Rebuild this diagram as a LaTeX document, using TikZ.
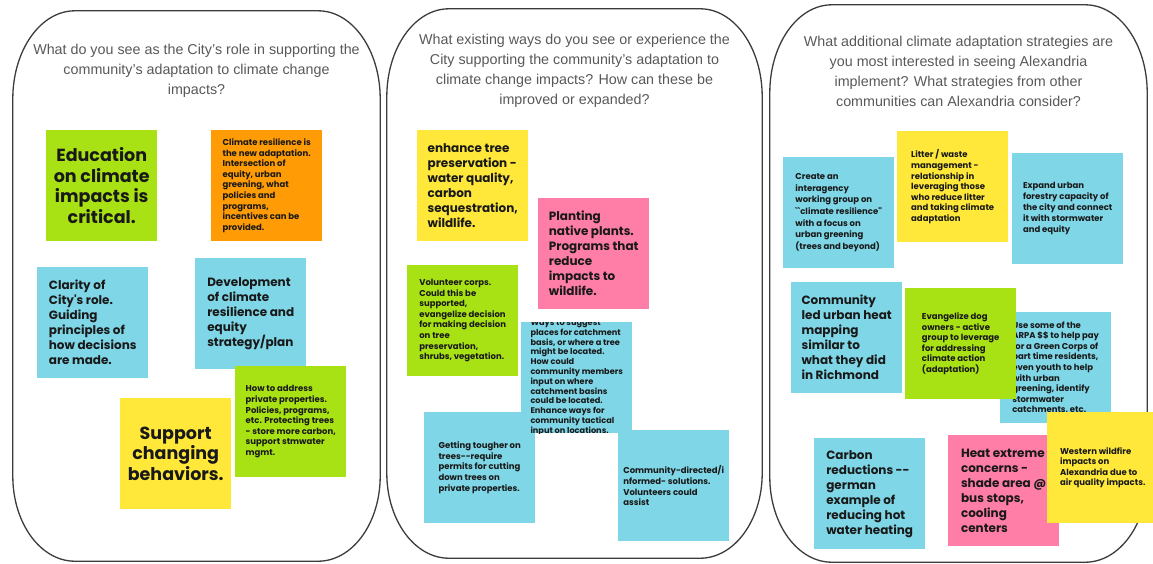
\documentclass[tikz,border=0pt]{standalone}
\usepackage{fontspec}
\setmainfont{Liberation Sans}
\newfontfamily\notefont{Poppins}
\usetikzlibrary{positioning}
\definecolor{frame}{RGB}{60, 60, 60}
\definecolor{asking}{RGB}{88, 88, 88}
\definecolor{ink}{RGB}{25, 25, 25}
\definecolor{lima}{RGB}{168, 226, 20}
\definecolor{naranja}{RGB}{255, 155, 5}
\definecolor{celeste}{RGB}{126, 214, 230}
\definecolor{amarillo}{RGB}{255, 232, 58}
\definecolor{rosa}{RGB}{255, 126, 168}
\tikzset{
    panel/.style={inner sep=0pt},
    panelLine/.style={draw=frame, line width=1.3pt},
    question/.style={text=asking, align=center, inner sep=0pt, font=\fontsize{14.3}{20}\selectfont},
    note/.style={anchor=north west, minimum width=111pt, minimum height=111pt, inner sep=0pt, align=left, text=ink},
    bigNote/.style={note, align=center, font=\notefont\bfseries\fontsize{17.5}{20.5}\selectfont},
    midNote/.style={note, font=\notefont\bfseries\fontsize{12}{15}\selectfont},
    lowNote/.style={note, font=\notefont\bfseries\fontsize{8.5}{10.6}\selectfont},
}
% outline of a board, corners wider than tall
\newcommand{\boardline}[1]{%
    \draw[panelLine] ([xshift=62pt]#1.north west) -- ([xshift=-62pt]#1.north east)
        arc[start angle=90, end angle=0, x radius=62pt, y radius=88pt]
        -- ([yshift=85pt]#1.south east)
        arc[start angle=0, end angle=-90, x radius=62pt, y radius=85pt]
        -- ([xshift=62pt]#1.south west)
        arc[start angle=270, end angle=180, x radius=62pt, y radius=85pt]
        -- ([yshift=-88pt]#1.north west)
        arc[start angle=180, end angle=90, x radius=62pt, y radius=88pt] -- cycle;}
\begin{document}
\begin{tikzpicture}[x=1pt, y=-1pt]
    \useasboundingbox (0,0) rectangle (1153,563);
    \coordinate (qrow) at (0,71);

    % the three boards
    \node [panel, minimum width=367, minimum height=550] (roleP) at (196.5,286) {};
    \node [panel, minimum width=375, minimum height=549] (waysP) at (574.5,283.5) {};
    \node [panel, minimum width=377, minimum height=557] (moreP) at (958.5,283.5) {};
    \boardline{roleP}
    \boardline{waysP}
    \boardline{moreP}

    \node [question] (roleQ) at (roleP.north |- qrow) {What do you see as the City's role in supporting the\\community's adaptation to climate change\\impacts?};
    \node [question] (waysQ) at (waysP.north |- qrow) {What existing ways do you see or experience the\\City supporting the community's adaptation to\\climate change impacts? How can these be\\improved or expanded?};
    \node [question] (moreQ) at (moreP.north |- qrow) {What additional climate adaptation strategies are\\you most interested in seeing Alexandria\\implement? What strategies from other\\communities can Alexandria consider?};

    % board 1
    \node [bigNote, fill=lima] (edu) at (46,130) {Education\\on climate\\impacts is\\critical.};
    \node [lowNote, fill=naranja] (resil) at (211,130) {Climate resilience is\\the new adaptation.\\Intersection of\\equity, urban\\greening, what\\policies and\\programs,\\incentives can be\\provided.};
    \node [midNote, fill=celeste] (clarity) at (37,267) {Clarity of\\City's role.\\Guiding\\principles of\\how decisions\\are made.};
    \node [midNote, fill=celeste] (devel) at (195,258) {Development\\of climate\\resilience and\\equity\\strategy/plan};
    \node [lowNote, fill=lima] (private) at (235,366) {How to address\\private properties.\\Policies, programs,\\etc. Protecting trees\\- store more carbon,\\support stmwater\\mgmt.};
    \node [bigNote, fill=amarillo] (support) at (120,398) {Support\\changing\\behaviors.};

    % board 2
    \node [midNote, fill=amarillo] (enhance) at (417,130) {enhance tree\\preservation -\\water quality,\\carbon\\sequestration,\\wildlife.};
    \node [midNote, fill=rosa] (planting) at (538,198) {Planting\\native plants.\\Programs that\\reduce\\impacts to\\wildlife.};
    \node [lowNote, fill=lima] (volunteer) at (407,265) {Volunteer corps.\\Could this be\\supported,\\evangelize decision\\for making decision\\on tree\\preservation,\\shrubs, vegetation.};
    \node [lowNote, fill=celeste] (tougher) at (424,412) {Getting tougher on\\trees-{}-require\\permits for cutting\\down trees on\\private properties.};
    \node [note, fill=celeste] (suggest) at (521,322) {};
    \begin{scope}
        \clip (suggest.north west) rectangle (suggest.south east);
        \node [lowNote, anchor=center, minimum height=0pt, font=\notefont\bfseries\fontsize{8.2}{9.8}\selectfont] (suggestT) at (suggest.center) {Ways to suggest\\places for catchment\\basis, or where a tree\\might be located.\\How could\\community members\\input on where\\catchment basins\\could be located.\\Enhance ways for\\community tactical\\input on locations.};
    \end{scope}
    \node [lowNote, fill=celeste] (directed) at (618,430) {Community-directed/i\\nformed- solutions.\\Volunteers could\\assist};

    % board 3
    \node [lowNote, fill=celeste, font=\notefont\bfseries\fontsize{8.5}{11.6}\selectfont] (agency) at (783,157) {Create an\\interagency\\working group on\\``climate resilience''\\with a focus on\\urban greening\\(trees and beyond)};
    \node [lowNote, fill=amarillo] (litter) at (897,131) {Litter / waste\\management -\\relationship in\\leveraging those\\who reduce litter\\and taking climate\\adaptation};
    \node [lowNote, fill=celeste, font=\notefont\bfseries\fontsize{8.5}{11}\selectfont] (forestry) at (1012,153) {Expand urban\\forestry capacity of\\the city and connect\\it with stormwater\\and equity};
    \node [midNote, fill=celeste] (heatmap) at (791,282) {Community\\led urban heat\\mapping\\similar to\\what they did\\in Richmond};
    \node [lowNote, fill=celeste] (arpa) at (1000,312) {Use some of the\\ARPA \$\$ to help pay\\for a Green Corps of\\part time residents,\\even youth to help\\with urban\\greening, identify\\stormwater\\catchments, etc.};
    \node [lowNote, fill=lima] (dogs) at (905,288) {Evangelize dog\\owners - active\\group to leverage\\for addressing\\climate action\\(adaptation)};
    \node [midNote, fill=celeste] (carbon) at (814,438) {Carbon\\reductions -{}-\\german\\example of\\reducing hot\\water heating};
    \node [midNote, fill=rosa] (heat) at (948,435) {Heat extreme\\concerns -\\shade area @\\bus stops,\\cooling\\centers};
    \node [lowNote, fill=amarillo] (wildfire) at (1047,412) {Western wildfire\\impacts on\\Alexandria due to\\air quality impacts.};
\end{tikzpicture}
\end{document}
